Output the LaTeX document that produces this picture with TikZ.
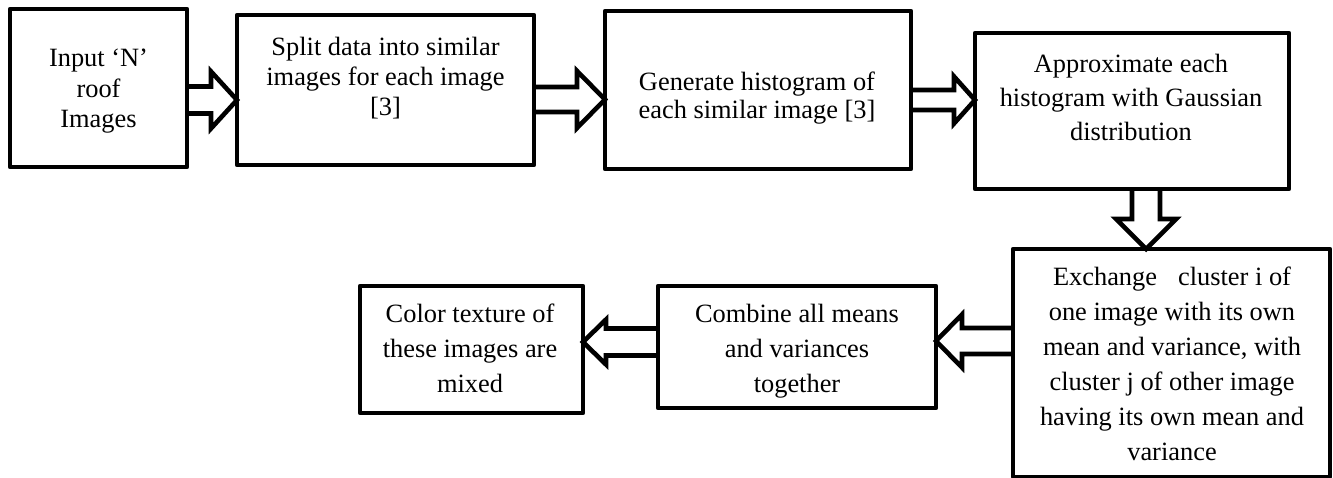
\documentclass[tikz,border=0pt]{standalone}
\usepackage{fontspec}
\setmainfont{Liberation Serif}
\usetikzlibrary{calc}

\tikzset{
  stagebox/.style={draw=black, line width=4.6pt, line join=round,
    inner sep=0pt, outer sep=0pt},
  stagetext/.style={align=center, inner sep=0pt,
    font=\fontsize{26.4pt}{#1}\selectfont},
  stagetext/.default={31pt},
  blockarrow/.style={draw=black, line width=4.6pt, line join=miter}
}

% hollow block arrow: #1 start point, #2 tip point,
% #3 half shaft width, #4 half head width, #5 head length
\newcommand\blockconn[5]{%
  \coordinate (hb) at ($(#2)!#5!(#1)$);
  \draw[blockarrow] ($(#1)!#3!90:(#2)$) -- ($(hb)!#3!90:(#2)$)
    -- ($(hb)!#4!90:(#2)$) -- (#2) -- ($(hb)!#4!-90:(#2)$)
    -- ($(hb)!#3!-90:(#2)$) -- ($(#1)!#3!-90:(#2)$);
}

\begin{document}
\begin{tikzpicture}[x=1pt, y=-1pt]
\useasboundingbox (0,0) rectangle (1333,478);

% process boxes
\node[stagebox, minimum width=177pt, minimum height=158pt] (b1) at (98.5,88) {};
\node[stagebox, minimum width=297pt, minimum height=150pt] (b2) at (385.5,90) {};
\node[stagebox, minimum width=306pt, minimum height=158pt] (b3) at (758,90) {};
\node[stagebox, minimum width=314pt, minimum height=156pt] (b4) at (1132,111) {};
\node[stagebox, minimum width=317pt, minimum height=228pt] (b5) at (1171.5,363) {};
\node[stagebox, minimum width=278pt, minimum height=122pt] (b6) at (797,347) {};
\node[stagebox, minimum width=223pt, minimum height=127pt] (b7) at (471.5,349.5) {};

% box texts
\node[stagetext=30.5pt] (t1) at (98.5,91.5) {Input ‘N’\\roof\\Images};
\node[stagetext=30pt] (t2) at (385.5,78.5) {Split data into similar\\images for each image\\{[3]}};
\node[stagetext=28pt] (t3) at (757,98) {Generate histogram of\\each similar image [3]};
\node[stagetext=34pt] (t4) at (1131,97) {Approximate each\\histogram with Gaussian\\distribution};
\node[stagetext=35pt] (t5) at (1172,363.5) {Exchange\hspace{21pt}cluster i of\\one image with its own\\mean and variance, with\\cluster j of other image\\having its own mean and\\variance};
\node[stagetext=35pt] (t6) at (797,351) {Combine all means\\and variances\\together};
\node[stagetext=35pt] (t7) at (470,348.5) {Color texture of\\these images are\\mixed};

% connector end points on the box borders
\coordinate (a1s) at (b1.east |- 0,100);
\coordinate (a1t) at (b2.west |- 0,100);
\coordinate (a2s) at (b2.east |- 0,99.5);
\coordinate (a2t) at (b3.west |- 0,99.5);
\coordinate (a3s) at (b3.east |- 0,100);
\coordinate (a3t) at (b4.west |- 0,100);
\coordinate (a4s) at (b4.south -| 1146,0);
\coordinate (a4t) at (b5.north -| 1146,0);
\coordinate (a5s) at (b5.west |- 0,341);
\coordinate (a5t) at (b6.east |- 0,341);
\coordinate (a6s) at (b6.west |- 0,342);
\coordinate (a6t) at (b7.east |- 0,342);

% block arrows
\blockconn{a1s}{a1t}{13.5pt}{28.5pt}{26pt}
\blockconn{a2s}{a2t}{12.5pt}{28.5pt}{28pt}
\blockconn{a3s}{a3t}{10pt}{23.5pt}{21pt}
\blockconn{a4s}{a4t}{14pt}{30pt}{30pt}
\blockconn{a5s}{a5t}{13pt}{26.5pt}{26pt}
\blockconn{a6s}{a6t}{13.5pt}{22.5pt}{23pt}
\end{tikzpicture}
\end{document}
